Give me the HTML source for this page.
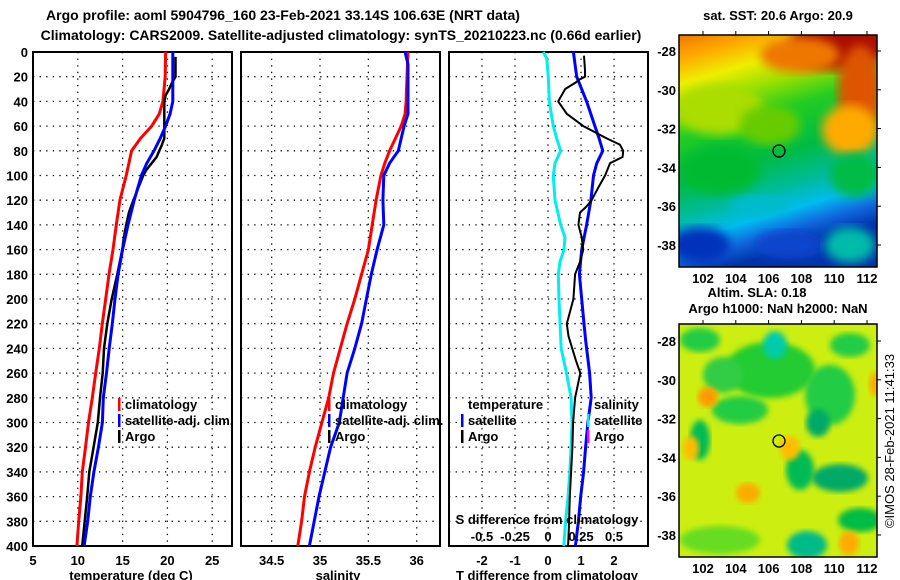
<!DOCTYPE html>
<html><head><meta charset="utf-8"><style>
html,body{margin:0;padding:0;background:#fff}
svg{display:block;font-family:"Liberation Sans",sans-serif;font-weight:bold}
</style></head><body>
<svg id="chart" width="900" height="580" viewBox="0 0 900 580">
<defs>
<linearGradient id="sstg" x1="0" y1="0" x2="0.25" y2="1">
<stop offset="0" stop-color="#ee7700"/><stop offset="0.1" stop-color="#ffaa00"/><stop offset="0.2" stop-color="#eeee00"/><stop offset="0.3" stop-color="#99e000"/><stop offset="0.42" stop-color="#22cc22"/><stop offset="0.6" stop-color="#00bb44"/><stop offset="0.74" stop-color="#00bb99"/><stop offset="0.84" stop-color="#00bbee"/><stop offset="0.92" stop-color="#1166dd"/><stop offset="1" stop-color="#0033aa"/>
</linearGradient>
<filter id="blur4"><feGaussianBlur stdDeviation="5"/></filter>
<filter id="blur2"><feGaussianBlur stdDeviation="3"/></filter>
<clipPath id="m1"><rect x="679" y="35" width="198" height="232"/></clipPath>
<clipPath id="m2"><rect x="679" y="324" width="198" height="233"/></clipPath>
</defs>
<g id="plots"></g>
<g id="maps"></g>
</svg>
<script>
// ---- data ----
const tDepthClim=[0,20,40,50,60,70,80,90,100,120,140,160,180,200,220,240,260,280,300,320,340,360,380,400];
const tClim=[19.8,19.75,19.5,19.1,18.25,17.0,16.0,15.7,15.4,14.7,14.3,13.93,13.48,13.11,12.73,12.4,12.0,11.62,11.19,10.86,10.5,10.35,10.1,9.9];
const tDepthSat=[0,20,40,50,60,70,80,90,100,120,140,160,180,200,220,240,260,280,300,320,340,360,380,400];
const tSat=[20.6,20.6,20.6,20.3,19.8,19.2,18.5,17.7,17.1,16.3,15.6,15.0,14.5,14.15,13.85,13.5,13.2,12.85,12.75,12.3,11.8,11.4,11.1,10.7];
const tDepthArgo=[4,20,25,30,35,40,70,75,80,85,90,95,100,110,120,130,140,150,160,180,200,220,240,260,280,300,320,340,360,380,400];
const tArgo=[20.9,20.9,20.5,20.2,19.8,19.65,19.65,19.4,19.1,18.8,18.25,17.7,17.3,16.75,16.2,15.7,15.4,15.15,14.97,14.41,13.78,13.29,12.92,12.78,12.48,12.23,11.76,11.28,11.05,10.77,10.49];
const sDepthClim=[0,20,40,50,60,70,80,90,100,120,140,160,180,200,220,240,260,280,300,320,340,360,380,400];
const sClim=[35.91,35.90,35.89,35.88,35.84,35.78,35.72,35.67,35.63,35.58,35.54,35.50,35.43,35.36,35.28,35.21,35.14,35.09,35.02,34.95,34.89,34.84,34.81,34.77];
const sDepthSat=[0,10,20,50,60,70,80,90,100,120,140,160,180,200,220,240,260,280,300,320,340,360,380,400];
const sSat=[35.88,35.91,35.91,35.91,35.87,35.84,35.81,35.72,35.66,35.65,35.66,35.59,35.53,35.48,35.43,35.36,35.28,35.24,35.20,35.11,35.05,34.99,34.94,34.89];
const dDepthS=[0,5,20,40,60,70,80,90,100,120,140,150,160,170,180,200,240,260,280,300,320,340,360,380,400];
const dSatS=[-0.036,-0.01,0.002,0.01,0.04,0.066,0.096,0.053,0.04,0.053,0.096,0.129,0.121,0.091,0.078,0.083,0.10,0.14,0.175,0.182,0.175,0.165,0.152,0.133,0.12];
const dDepthT=[0,20,40,60,70,80,90,100,120,140,160,180,200,220,233,260,280,300,320,340,360,380,400];
const dSatT=[0.77,0.87,1.17,1.42,1.55,1.66,1.48,1.38,1.30,1.17,1.02,0.95,1.02,1.09,1.14,1.26,1.31,1.21,1.14,1.08,0.99,0.92,0.83];
const dDepthA=[3,15,20,22,25,30,40,50,60,70,75,80,85,90,100,110,120,125,130,140,150,160,170,180,200,220,230,250,260,280,300,320,340,360,380,400];
const dArgoT=[1.09,1.12,1.12,0.97,0.82,0.52,0.31,0.57,1.07,1.78,2.18,2.28,2.26,1.88,1.73,1.52,1.32,1.17,0.97,0.92,1.02,1.07,0.97,0.82,0.77,0.57,0.62,0.85,0.98,0.82,0.76,0.74,0.70,0.66,0.64,0.61];
const depthTicks=[0,20,40,60,80,100,120,140,160,180,200,220,240,260,280,300,320,340,360,380,400];
const tTicks=[5,10,15,20,25];
const sTicks=[34.5,35,35.5,36];
const dTTicks=[-2,-1,0,1,2];
const dSTicks=[-0.5,-0.25,0,0.25,0.5];
const dSTickLabels=["-0.5","-0.25","0","0.25","0.5"];

// ---- axes ----
const Y0=52,Y1=546;
const yD=d=>Y0+d*(Y1-Y0)/400;
const xT=t=>33+(t-5)*8.96;
const xS=s=>320+(s-35)*96.7;
const xDT=t=>548+t*33;
const xDS=s=>548+s*132;
const NS='http://www.w3.org/2000/svg';
const G=document.getElementById('plots');
function mk(tag,attrs,parent){const e=document.createElementNS(NS,tag);for(const k in attrs)e.setAttribute(k,attrs[k]);(parent||G).appendChild(e);return e;}
function txt(x,y,s,size,anchor,parent){const e=mk('text',{x:x,y:y,'font-size':size,'text-anchor':anchor||'middle',fill:'#000'},parent);e.textContent=s;return e;}

const panels=[{x0:33,x1:232,name:'temperature-panel'},{x0:241,x1:440,name:'salinity-panel'},{x0:449,x1:648,name:'difference-panel'}];
panels.forEach((p,i)=>{
  const g=mk('g',{});
  
  
  depthTicks.forEach(d=>{
    if(d>0&&d<400){const l=mk('line',{x1:p.x0,x2:p.x1,y1:yD(d),y2:yD(d),stroke:'#000','stroke-width':1.3,'stroke-dasharray':'1.3 5.3'},g);
    
    }
  });
  const vt=i==0?tTicks.map(xT):i==1?sTicks.map(xS):dTTicks.map(xDT);
  vt.forEach(x=>{if(x>p.x0+2&&x<p.x1-2){const l=mk('line',{x1:x,x2:x,y1:Y0,y2:Y1,stroke:'#000','stroke-width':1.3,'stroke-dasharray':'1.3 5.3'},g);
    
    }});
  const r=mk('rect',{x:p.x0,y:Y0,width:p.x1-p.x0,height:Y1-Y0,fill:'none',stroke:'#000','stroke-width':2},g);
  
  
});
depthTicks.forEach(d=>{const t=txt(28,yD(d)+5,String(d),13,'end');
  
  });
tTicks.forEach(v=>{const t=txt(xT(v),565,String(v),13);
  
  });
sTicks.forEach(v=>{const t=txt(xS(v),565,String(v),13);
  
  });
dTTicks.forEach(v=>{const t=txt(xDT(v),565,String(v),13);
  
  });
dSTicks.forEach((v,i)=>{const t=txt(xDS(v),541,dSTickLabels[i],13);
  
  });

function line(xs,ds,fx,color,w,name){
  const pts=xs.map((v,i)=>fx(v).toFixed(1)+','+yD(ds[i]).toFixed(1)).join(' ');
  const e=mk('polyline',{points:pts,fill:'none',stroke:color,'stroke-width':w,'stroke-linejoin':'round'});
  
  
}
line(tClim,tDepthClim,xT,'#ff0000',3,'temperature-climatology-line');
line(tArgo,tDepthArgo,xT,'#000000',2.5,'temperature-argo-line');
line(tSat,tDepthSat,xT,'#0000ff',3,'temperature-satellite-line');
line(sClim,sDepthClim,xS,'#ff0000',3,'salinity-climatology-line');
line(sSat,sDepthSat,xS,'#0000ff',3,'salinity-satellite-line');
line(dSatS,dDepthS,xDS,'#00eeee',3,'salinity-satellite-diff-line');
line(dSatT,dDepthT,xDT,'#0000ff',3,'temperature-satellite-diff-line');
line(dArgoT,dDepthA,xDT,'#000000',2,'temperature-argo-diff-line');

function leg(x,y,color,label,name){
  const g=mk('g',{});
  
  
  if(color)mk('rect',{x:x,y:y-11,width:2.5,height:13,fill:color},g);
  txt(x+7,y,label,13,'start',g);
}
leg(118,409,'#ff0000','climatology','legend-climatology');
leg(118,425,'#0000ff','satellite-adj. clim.','legend-satellite');
leg(118,441,'#000','Argo','legend-argo');
leg(328,409,'#ff0000','climatology','legend-climatology-s');
leg(328,425,'#0000ff','satellite-adj. clim.','legend-satellite-s');
leg(328,441,'#000','Argo','legend-argo-s');
leg(461,409,null,'temperature','legend-temperature-title');
leg(461,425,'#0000ff','satellite','legend-temp-satellite');
leg(461,441,'#000','Argo','legend-temp-argo');
leg(587,409,null,'salinity','legend-salinity-title');
leg(587,425,'#00eeee','satellite','legend-sal-satellite');
leg(587,441,'#ff00ff','Argo','legend-sal-argo');

let t;
t=txt(283,20,'Argo profile: aoml 5904796_160 23-Feb-2021 33.14S 106.63E (NRT data)',14);

t=txt(341,40,'Climatology: CARS2009. Satellite-adjusted climatology: synTS_20210223.nc (0.66d earlier)',14);

t=txt(131,580,'temperature (deg C)',13);

t=txt(338,580,'salinity',13);

t=txt(547,580,'T difference from climatology',13);

t=txt(547,524,'S difference from climatology',13);

</script>
<script>
(function(){
const NS='http://www.w3.org/2000/svg';
const M=document.getElementById('maps');
function mk(tag,a,p){const e=document.createElementNS(NS,tag);for(const k in a)e.setAttribute(k,a[k]);(p||M).appendChild(e);return e;}
function tx(x,y,s,anc,p){const e=mk('text',{x:x,y:y,'font-size':13,'text-anchor':anc||'middle'},p);e.textContent=s;return e;}
const lonLabels=['102','104','106','108','110','112'];
const latLabels=['-28','-30','-32','-34','-36','-38'];
function frame(y0,y1,latStart,name,lonY){
  const g=mk('g',{});
  
  
  mk('rect',{x:679,y:y0,width:198,height:y1-y0,fill:'none',stroke:'#000','stroke-width':1.5},g);
  lonLabels.forEach((s,i)=>{const x=703+i*32.8;mk('line',{x1:x,x2:x,y1:y0-4,y2:y0,stroke:'#000'},g);tx(x,lonY,s,'middle',g);});
  latLabels.forEach((s,i)=>{const y=latStart+i*38.8;mk('line',{x1:877,x2:881,y1:y,y2:y,stroke:'#000'},g);tx(676,y+5,s,'end',g);});
}
// SST map
const g1=mk('g',{'clip-path':'url(#m1)'});


mk('rect',{x:679,y:35,width:198,height:232,fill:'url(#sstg)'},g1);
const blobs1=[[840,45,50,25,'#aa1100'],[860,90,22,45,'#dd5500'],[800,55,40,18,'#ee7700'],[850,130,28,25,'#ffaa00'],[720,110,45,25,'#aadd00'],[770,125,30,20,'#66cc00'],[855,175,25,22,'#00bb44'],[720,170,40,25,'#00bb33'],[700,245,30,18,'#0033bb'],[790,245,35,14,'#1144cc'],[850,245,25,18,'#00bbaa'],[760,205,30,10,'#00bbcc']];
blobs1.forEach(b=>mk('ellipse',{cx:b[0],cy:b[1],rx:b[2],ry:b[3],fill:b[4],filter:'url(#blur4)'},g1));
frame(35,267,51,'sst-map-frame',283);
mk('circle',{cx:779,cy:151,r:6,fill:'none',stroke:'#000','stroke-width':1.3});
// SLA map
const g2=mk('g',{'clip-path':'url(#m2)'});


mk('rect',{x:679,y:324,width:198,height:233,fill:'#ccee11'},g2);
const blobs2=[[770,370,45,28,'#22cc33'],[723,375,20,18,'#33cc44'],[775,345,12,14,'#00ccaa'],[740,410,28,14,'#22cc44'],[830,395,25,30,'#22cc44'],[818,423,12,14,'#00aa66'],[700,440,10,20,'#00bb55'],[800,470,14,20,'#00bb55'],[840,478,28,14,'#00aa66'],[860,520,22,12,'#00bb44'],[807,545,20,14,'#00bb88'],[720,540,40,14,'#66dd22'],[708,397,10,10,'#ff9900'],[691,448,8,12,'#ffbb00'],[748,493,12,10,'#ffaa00'],[790,448,10,12,'#ffbb00'],[849,543,10,12,'#ffaa00'],[875,384,6,12,'#ffaa00'],[850,345,20,12,'#22cc44'],[700,340,20,12,'#22cc44']];
blobs2.forEach(b=>mk('ellipse',{cx:b[0],cy:b[1],rx:b[2],ry:b[3],fill:b[4],filter:'url(#blur2)'},g2));
frame(324,557,341,'sla-map-frame',573);
mk('circle',{cx:779,cy:441,r:6,fill:'none',stroke:'#000','stroke-width':1.3});
let t;
t=tx(778,20,'sat. SST: 20.6 Argo: 20.9');

t=tx(757,297,'Altim. SLA: 0.18');

t=tx(778,313,'Argo h1000: NaN h2000: NaN');

t=mk('text',{x:0,y:0,'font-size':13,'font-weight':'normal','text-anchor':'middle',transform:'translate(894,441) rotate(-90)'});
t.textContent='©IMOS 28-Feb-2021 11:41:33';

})();
</script>
</body></html>
